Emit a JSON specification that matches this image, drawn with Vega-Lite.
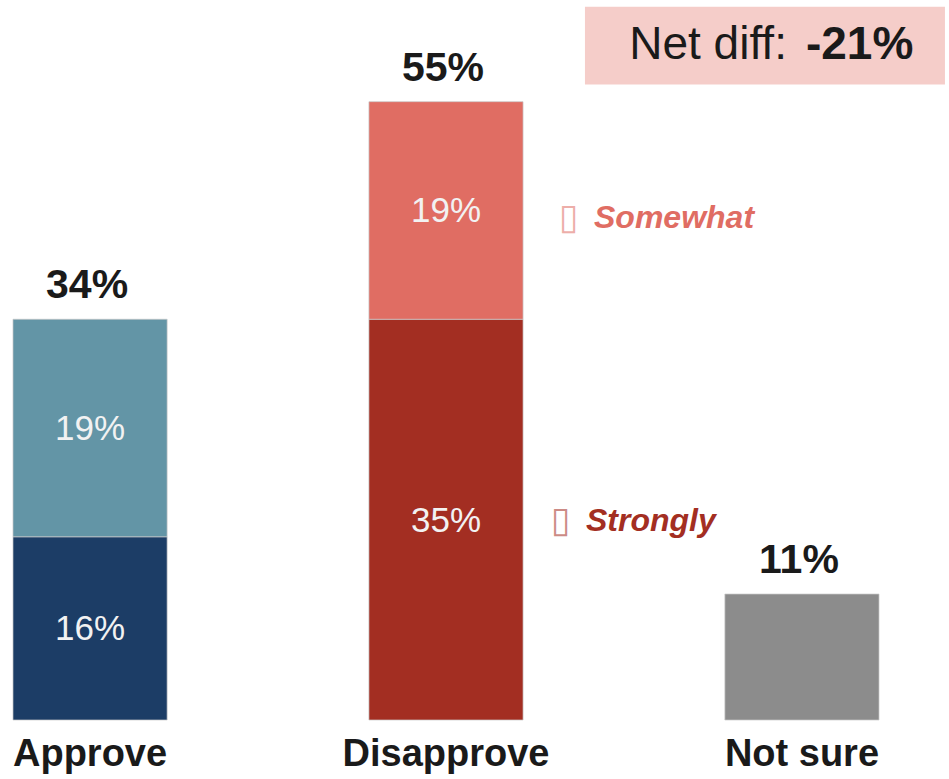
{
  "$schema": "https://vega.github.io/schema/vega-lite/v6.json",
  "width": 892,
  "height": 720,
  "autosize": "none",
  "padding": {"left": 0, "top": 0, "right": 57, "bottom": 59},
  "background": "white",
  "config": {"view": {"stroke": null}, "font": "Liberation Sans"},
  "datasets": {
    "segs": [
      {"cat": "Approve", "seg": "Approve strongly", "value": 16, "order": 1, "label": "16%", "legend": ""},
      {"cat": "Approve", "seg": "Approve somewhat", "value": 19, "order": 2, "label": "19%", "legend": ""},
      {"cat": "Disapprove", "seg": "Disapprove strongly", "value": 35, "order": 1, "label": "35%", "legend": "Strongly"},
      {"cat": "Disapprove", "seg": "Disapprove somewhat", "value": 19, "order": 2, "label": "19%", "legend": "Somewhat"},
      {"cat": "Not sure", "seg": "Not sure", "value": 11, "order": 1, "label": "", "legend": ""}
    ],
    "totals": [
      {"cat": "Approve", "total": "34%"},
      {"cat": "Disapprove", "total": "55%"},
      {"cat": "Not sure", "total": "11%"}
    ],
    "note": [
      {"cat": "Not sure", "t1": "Net diff:", "t2": "-21%"}
    ]
  },
  "encoding": {
    "x": {
      "field": "cat",
      "type": "nominal",
      "sort": ["Approve", "Disapprove", "Not sure"],
      "scale": {"domain": ["Approve", "Disapprove", "Not sure"], "paddingInner": 0.567, "paddingOuter": 0.0365},
      "axis": {
        "title": null, "domain": false, "ticks": false, "grid": false, "labelAngle": 0,
        "labelFont": "Liberation Sans", "labelFontSize": 38, "labelFontWeight": "bold",
        "labelColor": "#1a1a1a", "labelPadding": 15, "labelBaseline": "top", "labelLimit": 0
      }
    }
  },
  "layer": [
    {
      "data": {"name": "segs"},
      "mark": {"type": "bar", "stroke": "#c8c8c8", "strokeWidth": 0.7},
      "encoding": {
        "y": {"field": "value", "type": "quantitative", "stack": "zero", "scale": {"domain": [0, 62.88], "nice": false, "zero": true}, "axis": null},
        "order": {"field": "order", "type": "quantitative"},
        "color": {
          "field": "seg", "type": "nominal", "legend": null,
          "scale": {
            "domain": ["Approve strongly", "Approve somewhat", "Disapprove strongly", "Disapprove somewhat", "Not sure"],
            "range": ["#1c3d66", "#6395a6", "#a32e22", "#e06d63", "#8c8c8c"]
          }
        }
      }
    },
    {
      "data": {"name": "segs"},
      "transform": [
        {"stack": "value", "groupby": ["cat"], "sort": [{"field": "order", "order": "ascending"}], "as": ["v0", "v1"]},
        {"calculate": "(datum.v0 + datum.v1) / 2", "as": "mid"}
      ],
      "layer": [
        {
          "mark": {"type": "text", "fontSize": 35, "color": "#f2f2f2", "baseline": "middle", "align": "center", "dy": 1},
          "encoding": {
            "y": {"field": "mid", "type": "quantitative"},
            "text": {"field": "label"}
          }
        },
        {
          "transform": [{"filter": "datum.legend == 'Somewhat'"}],
          "layer": [
            {
              "mark": {"type": "text", "fontSize": 36, "font": "DejaVu Sans", "fontWeight": "normal", "opacity": 0.55, "baseline": "middle", "align": "left", "dx": 113, "dy": 8},
              "encoding": {
                "y": {"field": "mid", "type": "quantitative"},
                "text": {"value": "▯"},
                "color": {"field": "seg", "type": "nominal", "legend": null}
              }
            },
            {
              "mark": {"type": "text", "fontSize": 32, "fontWeight": "bold", "fontStyle": "italic", "baseline": "middle", "align": "left", "dx": 148, "dy": 8},
              "encoding": {
                "y": {"field": "mid", "type": "quantitative"},
                "text": {"field": "legend"},
                "color": {"field": "seg", "type": "nominal", "legend": null}
              }
            }
          ]
        },
        {
          "transform": [{"filter": "datum.legend == 'Strongly'"}],
          "layer": [
            {
              "mark": {"type": "text", "fontSize": 36, "font": "DejaVu Sans", "fontWeight": "normal", "opacity": 0.55, "baseline": "middle", "align": "left", "dx": 105, "dy": 1},
              "encoding": {
                "y": {"field": "mid", "type": "quantitative"},
                "text": {"value": "▯"},
                "color": {"field": "seg", "type": "nominal", "legend": null}
              }
            },
            {
              "mark": {"type": "text", "fontSize": 32, "fontWeight": "bold", "fontStyle": "italic", "baseline": "middle", "align": "left", "dx": 140, "dy": 1},
              "encoding": {
                "y": {"field": "mid", "type": "quantitative"},
                "text": {"field": "legend"},
                "color": {"field": "seg", "type": "nominal", "legend": null}
              }
            }
          ]
        }
      ]
    },
    {
      "data": {"name": "segs"},
      "transform": [
        {"aggregate": [{"op": "sum", "field": "value", "as": "top"}], "groupby": ["cat"]},
        {"lookup": "cat", "from": {"data": {"name": "totals"}, "key": "cat", "fields": ["total"]}}
      ],
      "mark": {"type": "text", "fontSize": 41, "fontWeight": "bold", "color": "#1a1a1a", "baseline": "alphabetic", "align": "center", "dy": -21, "dx": -3},
      "encoding": {
        "y": {"field": "top", "type": "quantitative"},
        "text": {"field": "total"}
      }
    },
    {
      "data": {"name": "note"},
      "layer": [
        {
          "mark": {"type": "bar", "width": 360, "xOffset": -37, "color": "#f5cdc9"},
          "encoding": {
            "y": {"datum": 55.5, "type": "quantitative"},
            "y2": {"datum": 62.3}
          }
        },
        {
          "mark": {"type": "text", "fontSize": 46, "color": "#1a1a1a", "baseline": "middle", "align": "right", "dx": -15, "dy": 1},
          "encoding": {
            "y": {"datum": 59, "type": "quantitative"},
            "text": {"field": "t1"}
          }
        },
        {
          "mark": {"type": "text", "fontSize": 46, "fontWeight": "bold", "color": "#1a1a1a", "baseline": "middle", "align": "left", "dx": 4, "dy": 1},
          "encoding": {
            "y": {"datum": 59, "type": "quantitative"},
            "text": {"field": "t2"}
          }
        }
      ]
    }
  ]
}
